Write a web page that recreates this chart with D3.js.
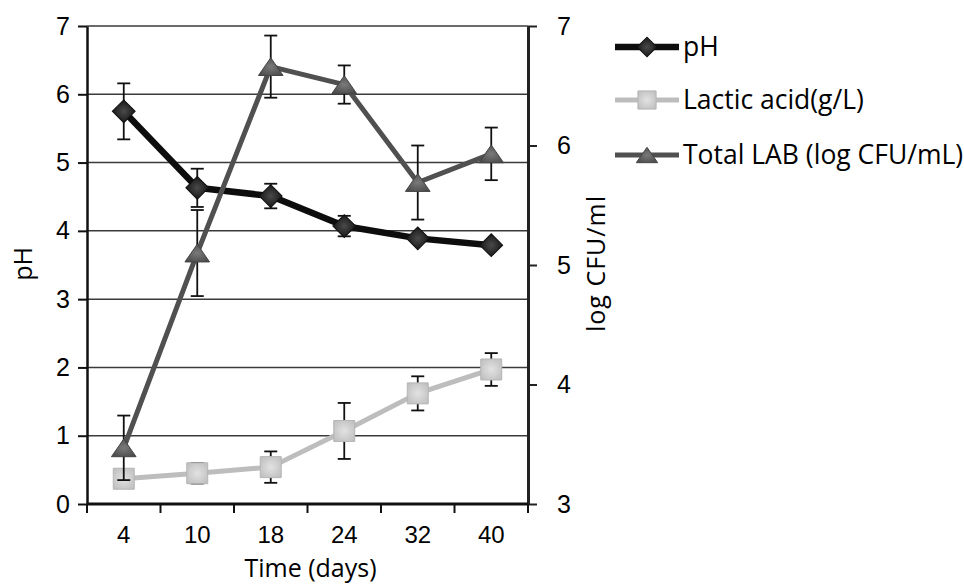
<!DOCTYPE html>
<html>
<head>
<meta charset="utf-8">
<script src="https://cdn.jsdelivr.net/npm/d3@7"></script>
<style>
  body { margin: 0; background: #fff; }
  svg { font-family: "Open Sans", sans-serif; fill: #000; }
  .tick text { fill: #000; }
</style>
</head>
<body>
<svg width="964" height="585"></svg>
<script>
const days = ['4', '10', '18', '24', '32', '40'];
const phValues = [5.75, 4.63, 4.51, 4.07, 3.89, 3.79];
const phErr = [0.41, 0.28, 0.18, 0.15, 0.05, 0.05];
const lacticValues = [0.37, 0.45, 0.54, 1.07, 1.62, 1.97];
const lacticErr = [0.1, 0.15, 0.23, 0.41, 0.25, 0.24];
const labValues = [3.47, 5.1, 6.66, 6.51, 5.69, 5.93];
const labErr = [0.27, 0.36, 0.26, 0.16, 0.31, 0.22];
const leftTicks = [0, 1, 2, 3, 4, 5, 6, 7];
const rightTicks = [3, 4, 5, 6, 7];
const legendNames = ['pH', 'Lactic acid(g/L)', 'Total LAB (log CFU/mL)'];

const svg = d3.select('svg');
const plotLeft = 87, plotRight = 528, plotTop = 26, plotBottom = 504;

const x = d3.scaleBand().domain(days).range([plotLeft, plotRight]);
const yL = d3.scaleLinear().domain([0, 7]).range([plotBottom, plotTop]);
const yR = d3.scaleLinear().domain([3, 7]).range([plotBottom, plotTop]);
const cx = d => x(d) + x.bandwidth() / 2;

// marker gradients
const defs = svg.append('defs');
function grad(id, c1, c2) {
  const g = defs.append('radialGradient').attr('id', id).attr('r', '0.75');
  g.append('stop').attr('offset', '0%').attr('stop-color', c1);
  g.append('stop').attr('offset', '100%').attr('stop-color', c2);
}
grad('gPh', '#4a4a4a', '#151515');
grad('gLac', '#e2e2e2', '#b9b9b9');
grad('gLab', '#7a7a7a', '#3f3f3f');

// flat triangle like the spreadsheet marker
const flatTriangle = {
  draw(ctx, size) {
    const w = Math.sqrt(size) * 1.5, h = w * 0.72;
    ctx.moveTo(0, -h / 2);
    ctx.lineTo(w / 2, h / 2);
    ctx.lineTo(-w / 2, h / 2);
    ctx.closePath();
  }
};

// gridlines
svg.append('g')
  .selectAll('line')
  .data(leftTicks.filter(t => t > 0))
  .join('line')
  .attr('x1', plotLeft).attr('x2', plotRight)
  .attr('y1', d => yL(d)).attr('y2', d => yL(d))
  .attr('stroke', '#3a3a3a').attr('stroke-width', 1.5);

// left axis
const gl = svg.append('g')
  .attr('transform', `translate(${plotLeft},0)`)
  .call(d3.axisLeft(yL).tickValues(leftTicks).tickFormat(d3.format('d')).tickSize(9).tickPadding(8).tickSizeOuter(0));
gl.select('.domain').attr('stroke', '#111').attr('stroke-width', 2.5);
gl.selectAll('.tick line').attr('stroke', '#111').attr('stroke-width', 2);
gl.selectAll('.tick text').attr('font-size', 25);

// right axis
const gr = svg.append('g')
  .attr('transform', `translate(${plotRight},0)`)
  .call(d3.axisRight(yR).tickValues(rightTicks).tickFormat(d3.format('d')).tickSize(9).tickPadding(20).tickSizeOuter(0));
gr.select('.domain').attr('stroke', '#222').attr('stroke-width', 3);
gr.selectAll('.tick line').attr('stroke', '#222').attr('stroke-width', 2);
gr.selectAll('.tick text').attr('font-size', 25);

// bottom axis: labels centred, ticks on band edges
const gb = svg.append('g')
  .attr('transform', `translate(0,${plotBottom})`)
  .call(d3.axisBottom(x).tickSize(0).tickPadding(22));
gb.select('.domain').remove();
gb.selectAll('.tick text').attr('font-size', 24);
svg.append('line')
  .attr('x1', plotLeft).attr('x2', plotRight).attr('y1', plotBottom).attr('y2', plotBottom)
  .attr('stroke', '#111').attr('stroke-width', 3);
svg.append('g')
  .selectAll('line')
  .data(days.map(d => x(d)).concat([plotRight]))
  .join('line')
  .attr('x1', d => d).attr('x2', d => d)
  .attr('y1', plotBottom).attr('y2', plotBottom + 9)
  .attr('stroke', '#111').attr('stroke-width', 2);

// axis titles
svg.append('text')
  .attr('transform', `translate(32,264) rotate(-90)`)
  .attr('text-anchor', 'middle')
  .attr('font-size', 25)
  .text('pH');
svg.append('text')
  .attr('transform', `translate(605,264) rotate(-90)`)
  .attr('text-anchor', 'middle')
  .attr('font-size', 25)
  .attr('textLength', 136)
  .attr('lengthAdjust', 'spacing')
  .text('log CFU/ml');
svg.append('text')
  .attr('x', (plotLeft + plotRight) / 2 + 3).attr('y', 577)
  .attr('text-anchor', 'middle')
  .attr('font-size', 25)
  .text('Time (days)');

const series = [
  {values: phValues, err: phErr, y: yL, line: '#0d0d0d', width: 6.5, fill: 'url(#gPh)', stroke: '#111', sym: d3.symbolSquare, rot: 45, size: 260},
  {values: lacticValues, err: lacticErr, y: yL, line: '#bdbdbd', width: 5, fill: 'url(#gLac)', stroke: '#b5b5b5', sym: d3.symbolSquare, rot: 0, size: 440},
  {values: labValues, err: labErr, y: yR, line: '#505050', width: 5, fill: 'url(#gLab)', stroke: '#444', sym: flatTriangle, rot: 0, size: 270}
];

series.forEach(s => {
  const pts = days.map((d, i) => ({d, v: s.values[i], e: s.err[i]}));
  const g = svg.append('g');
  // error bars
  const eb = g.append('g').selectAll('g').data(pts).join('g');
  eb.append('line')
    .attr('x1', p => cx(p.d)).attr('x2', p => cx(p.d))
    .attr('y1', p => s.y(p.v - p.e)).attr('y2', p => s.y(p.v + p.e))
    .attr('stroke', '#111').attr('stroke-width', 1.8);
  [-1, 1].forEach(k => {
    eb.append('line')
      .attr('x1', p => cx(p.d) - 6.5).attr('x2', p => cx(p.d) + 6.5)
      .attr('y1', p => s.y(p.v + k * p.e)).attr('y2', p => s.y(p.v + k * p.e))
      .attr('stroke', '#111').attr('stroke-width', 1.8);
  });
  g.append('path')
    .datum(pts)
    .attr('fill', 'none')
    .attr('stroke', s.line)
    .attr('stroke-width', s.width)
    .attr('stroke-linejoin', 'round')
    .attr('d', d3.line().x(p => cx(p.d)).y(p => s.y(p.v)));
  g.selectAll('path.mk').data(pts).join('path')
    .attr('class', 'mk')
    .attr('transform', p => `translate(${cx(p.d)},${s.y(p.v)}) rotate(${s.rot})`)
    .attr('d', d3.symbol().type(s.sym).size(s.size))
    .attr('fill', s.fill).attr('stroke', s.stroke).attr('stroke-width', 1);
});

// legend
const legendY = [47, 100, 155];
const lg = svg.append('g').selectAll('g').data(series).join('g')
  .attr('transform', (s, i) => `translate(615,${legendY[i]})`);
lg.append('line')
  .attr('x1', 0).attr('x2', 64)
  .attr('stroke', s => s.line).attr('stroke-width', s => s.width);
lg.append('path')
  .attr('transform', s => `translate(32,0) rotate(${s.rot})`)
  .attr('d', s => d3.symbol().type(s.sym).size(s.size * 0.75)())
  .attr('fill', s => s.fill).attr('stroke', s => s.stroke);
lg.append('text')
  .attr('x', 68).attr('y', 0).attr('dy', '0.35em')
  .attr('font-size', 26.5)
  .text((s, i) => legendNames[i]);
</script>
</body>
</html>
